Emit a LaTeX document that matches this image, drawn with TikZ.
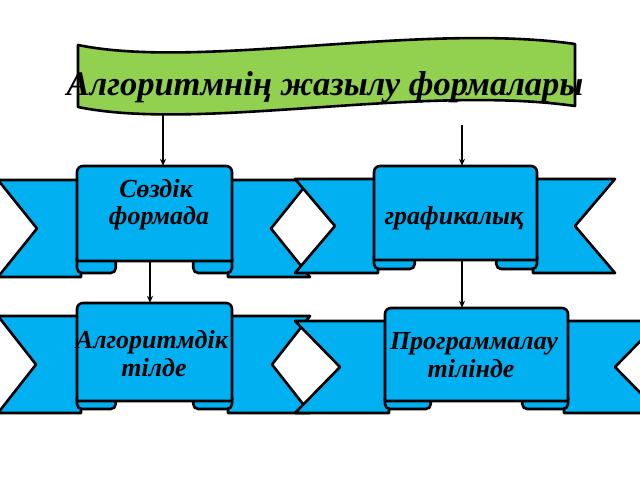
\documentclass[tikz,border=0pt]{standalone}
\usepackage{fontspec}
\setmainfont{Liberation Serif}
\usetikzlibrary{arrows.meta,calc}
\definecolor{ribblue}{HTML}{00B0F0}
\definecolor{bangreen}{HTML}{92D050}
\tikzset{
  rib/.style={fill=ribblue,draw=black,line width=2.6pt,line join=round},
  ban/.style={fill=bangreen,draw=black,line width=2.6pt,line join=round},
  arr/.style={-{Stealth[length=7pt,width=6pt]},line width=1.3pt},
  lbl/.style={inner sep=0pt,anchor=base,font=\fontsize{26}{28}\selectfont\bfseries\itshape},
  ttl/.style={inner sep=0pt,anchor=base,font=\fontsize{34.5}{38}\selectfont\bfseries\itshape},
  panel/.style={inner sep=0pt,draw=none,fill=none}
}
% #1 L, #2 R, #3 notch depth, #4 band top, #5 band bottom, #6 panel left, #7 panel right, #8 panel top, #9 panel bottom
\newcommand\myribbon[9]{%
  \pgfmathsetmacro\cw{0.25*(#7-#6)}%
  \filldraw[rib] (#1,#4) -- ({#6+4},#4) -- ({#6+4},#5) -- (#1,#5) -- ({#1+#3},{(#4+#5)/2}) -- cycle;
  \filldraw[rib] (#2,#4) -- ({#7-4},#4) -- ({#7-4},#5) -- (#2,#5) -- ({#2-#3},{(#4+#5)/2}) -- cycle;
  \filldraw[rib,rounded corners=5pt] (#6,{#9-8}) rectangle ({#6+\cw},{#5-4});
  \filldraw[rib,rounded corners=5pt] ({#7-\cw},{#9-8}) rectangle (#7,{#5-4});
  \filldraw[rib] (#6,#9) [rounded corners=6pt] -- (#6,#8) -- (#7,#8) [sharp corners] -- (#7,#9) -- cycle;
}
\begin{document}
\begin{tikzpicture}[x=1pt,y=-1pt]
\useasboundingbox (0,0) rectangle (640,480);
\clip (0,0) rectangle (640,480);
\fill[white] (0,0) rectangle (640,480);
% row 1
\myribbon{-2}{310}{39}{180}{277}{77}{232}{166}{261}
\myribbon{295}{615}{40}{179}{273}{374}{537}{166}{260}
% row 2
\myribbon{-2}{310}{38}{316}{413}{77}{232}{303}{401}
\myribbon{295}{660}{45}{321}{413}{385}{568}{308}{401}
% panel nodes
\node[panel,minimum width=155pt,minimum height=95pt] (p1) at (154.5,213.5) {};
\node[panel,minimum width=163pt,minimum height=94pt] (p2) at (455.5,213) {};
\node[panel,minimum width=155pt,minimum height=98pt] (p3) at (154.5,352) {};
\node[panel,minimum width=183pt,minimum height=93pt] (p4) at (476.5,354.5) {};
% labels
\node[lbl] (t1a) at (156,197) {Сөздік};
\node[lbl] (t1b) at (159,224) {формада};
\node[lbl] (t2) at (454,224) {графикалық};
\node[lbl] (t3a) at (152,348) {Алгоритмдік};
\node[lbl] (t3b) at (154,376) {тілде};
\node[lbl] (t4a) at (474,349) {Программалау};
\node[lbl] (t4b) at (471,377) {тілінде};
% arrows
\coordinate (s1) at (163,110);
\coordinate (s2) at (462,125);
\coordinate (c3) at (150,0);
\coordinate (c4) at (462,0);
\draw[arr] (s1) -- (s1 |- p1.north);
\draw[arr] (s2) -- (s2 |- p2.north);
\draw[arr] (p1.south -| c3) -- (p3.north -| c3);
\draw[arr] (p2.south -| c4) -- (p4.north -| c4);
% banner
\filldraw[ban] (78,45) .. controls (200,70) and (420,22) .. (575,44) -- (575,106) .. controls (420,84) and (200,132) .. (78,107) -- cycle;
\node[ttl] (title) at (325,95) {Алгоритмнің жазылу формалары};
\end{tikzpicture}
\end{document}
